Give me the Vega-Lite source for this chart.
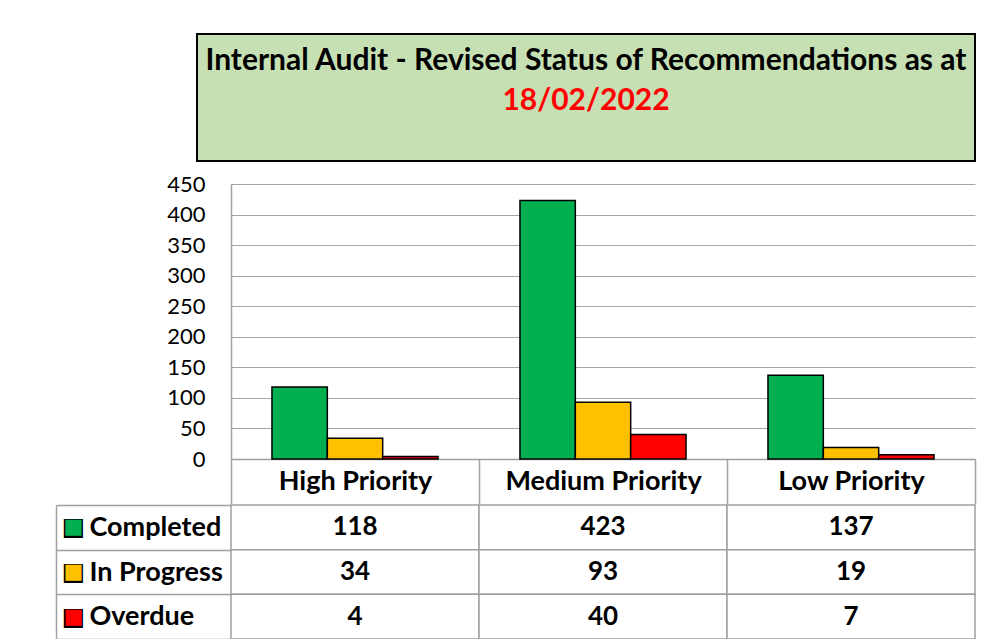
{
  "$schema": "https://vega.github.io/schema/vega-lite/v6.json",
  "background": "white",
  "padding": {"left": 55, "top": 33, "right": 10, "bottom": 0},
  "config": {"font": "Lato", "view": {"stroke": null}, "concat": {"spacing": 0}},
  "datasets": {
    "status": [
      {"priority": "High Priority", "status": "Completed", "count": 118},
      {"priority": "High Priority", "status": "In Progress", "count": 34},
      {"priority": "High Priority", "status": "Overdue", "count": 4},
      {"priority": "Medium Priority", "status": "Completed", "count": 423},
      {"priority": "Medium Priority", "status": "In Progress", "count": 93},
      {"priority": "Medium Priority", "status": "Overdue", "count": 40},
      {"priority": "Low Priority", "status": "Completed", "count": 137},
      {"priority": "Low Priority", "status": "In Progress", "count": 19},
      {"priority": "Low Priority", "status": "Overdue", "count": 7}
    ],
    "titleLines": [
      {"line": 1, "text": "Internal Audit - Revised Status of Recommendations as at"},
      {"line": 2, "text": "18/02/2022"}
    ]
  },
  "spacing": 0,
  "vconcat": [
    {
      "width": 778,
      "height": 127,
      "view": {"fill": "#c6e0b4", "stroke": "#000000", "strokeWidth": 2},
      "data": {"name": "titleLines"},
      "mark": {"type": "text", "fontWeight": "bold", "fontSize": 30, "baseline": "middle"},
      "encoding": {
        "y": {
          "field": "line",
          "type": "quantitative",
          "scale": {"domain": [0.325, 3.5], "reverse": true, "nice": false, "zero": false},
          "axis": null
        },
        "text": {"field": "text"},
        "color": {"condition": {"test": "datum.line == 2", "value": "#ff0000"}, "value": "#000000"}
      }
    },
    {
      "spacing": -143,
      "hconcat": [
        {
          "width": 1,
          "height": 1,
          "data": {"values": []},
          "mark": {"type": "point", "opacity": 0}
        },
        {
          "spacing": -15,
          "vconcat": [
            {
              "width": 744,
              "height": 275,
              "title": {"text": " ", "fontSize": 11, "offset": 0},
              "data": {"name": "status"},
              "mark": {"type": "bar", "stroke": "#000000", "strokeWidth": 1.5},
              "encoding": {
                "x": {
                  "field": "priority",
                  "type": "nominal",
                  "sort": ["High Priority", "Medium Priority", "Low Priority"],
                  "scale": {"paddingInner": 0, "paddingOuter": 0},
                  "axis": {
                    "title": null, "labelAngle": 0, "labelFontSize": 27, "labelFontWeight": "bold",
                    "labelColor": "#000000", "labelLimit": 400, "domainColor": "#a0a0a0", "domainWidth": 1.5,
                    "tickColor": "#a0a0a0", "tickWidth": 1.5, "tickBand": "extent", "tickSize": 45,
                    "labelBaseline": "middle", "labelPadding": -22.5, "grid": false
                  }
                },
                "xOffset": {
                  "field": "status",
                  "sort": ["Completed", "In Progress", "Overdue"],
                  "scale": {"paddingInner": 0, "paddingOuter": 0.74}
                },
                "y": {
                  "field": "count",
                  "type": "quantitative",
                  "scale": {"domain": [0, 450], "nice": false},
                  "axis": {
                    "title": null, "values": [0, 50, 100, 150, 200, 250, 300, 350, 400, 450],
                    "grid": true, "gridColor": "#a6a6a6", "gridWidth": 1, "ticks": false,
                    "domainColor": "#a0a0a0", "domainWidth": 1.5, "labelFontSize": 22,
                    "labelColor": "#000000", "labelPadding": 26, "minExtent": 175, "maxExtent": 175
                  }
                },
                "color": {
                  "field": "status",
                  "scale": {"domain": ["Completed", "In Progress", "Overdue"], "range": ["#00b050", "#ffc000", "#ff0000"]},
                  "legend": null
                }
              }
            },
            {
              "width": 744,
              "height": 134,
              "data": {"name": "status"},
              "layer": [
                {
                  "mark": {"type": "rect", "fill": "#ffffff", "stroke": "#a0a0a0", "strokeWidth": 1.5},
                  "encoding": {
                    "x": {"field": "priority", "type": "nominal", "sort": ["High Priority", "Medium Priority", "Low Priority"], "scale": {"paddingInner": 0, "paddingOuter": 0}, "axis": null},
                    "y": {
                      "field": "status", "type": "nominal", "sort": ["Completed", "In Progress", "Overdue"],
                      "scale": {"paddingInner": 0, "paddingOuter": 0},
                      "axis": {
                        "title": null, "orient": "left", "domain": false, "ticks": true, "tickBand": "extent",
                        "tickSize": 175, "tickColor": "#a0a0a0", "tickWidth": 1.5, "labelAlign": "left",
                        "labelBaseline": "middle", "labelPadding": -33, "labelFontSize": 27, "labelFontWeight": "bold",
                        "labelColor": "#000000", "labelLimit": 300, "minExtent": 175, "maxExtent": 175
                      }
                    }
                  }
                },
                {
                  "mark": {"type": "rect", "fillOpacity": 0, "strokeOpacity": 0},
                  "encoding": {
                    "x": {"field": "priority", "type": "nominal", "sort": ["High Priority", "Medium Priority", "Low Priority"], "axis": null},
                    "y": {
                      "field": "status", "type": "nominal", "sort": ["Completed", "In Progress", "Overdue"],
                      "axis": {
                        "title": null, "orient": "left", "offset": 175, "domain": true, "domainColor": "#a0a0a0",
                        "domainWidth": 1.5, "ticks": false, "labelExpr": "'■'", "labelFont": "DejaVu Sans",
                        "labelFontSize": 25, "labelAlign": "center", "labelBaseline": "middle", "labelPadding": -17,
                        "labelColor": "#000000", "minExtent": 0, "maxExtent": 0, "zindex": 1
                      }
                    }
                  }
                },
                {
                  "mark": {"type": "text", "fontSize": 26, "fontWeight": "bold", "color": "#000000"},
                  "encoding": {
                    "x": {"field": "priority", "type": "nominal", "sort": ["High Priority", "Medium Priority", "Low Priority"], "axis": null},
                    "y": {
                      "field": "status", "type": "nominal", "sort": ["Completed", "In Progress", "Overdue"],
                      "axis": {
                        "title": null, "orient": "left", "offset": 175, "domain": false, "ticks": false,
                        "labelExpr": "'■'", "labelFont": "DejaVu Sans",
                        "labelFontSize": 21, "labelAlign": "center", "labelBaseline": "middle", "labelPadding": -17,
                        "labelColor": {"condition": [{"test": "datum.value == 'Completed'", "value": "#00b050"}, {"test": "datum.value == 'In Progress'", "value": "#ffc000"}], "value": "#ff0000"},
                        "minExtent": 0, "maxExtent": 0, "zindex": 2
                      }
                    },
                    "text": {"field": "count"}
                  }
                }
              ],
              "resolve": {"axis": {"y": "independent"}}
            }
          ]
        }
      ]
    }
  ]
}
